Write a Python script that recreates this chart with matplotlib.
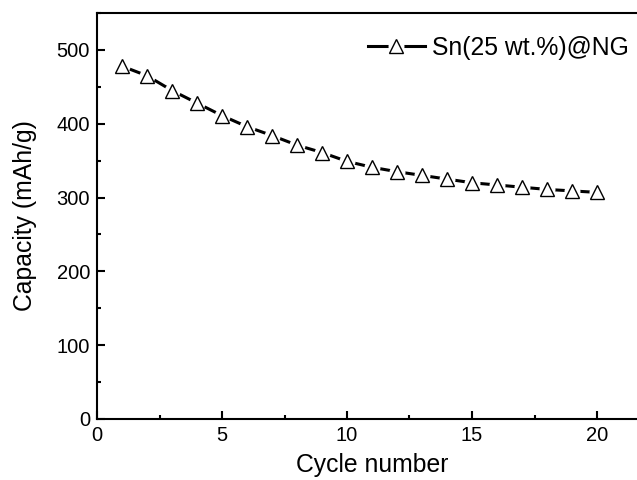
import matplotlib
matplotlib.use("Agg")
import matplotlib.pyplot as plt
from matplotlib.ticker import MultipleLocator
from matplotlib.legend_handler import HandlerTuple

cycles = list(range(1, 21))
capacity = [478, 465, 445, 428, 411, 396, 384, 371, 361, 349,
            341, 335, 330, 325, 320, 317, 314, 311, 309, 307]
series_label = "Sn(25 wt.%)@NG"

plt.rcParams['font.family'] = ['Liberation Sans', 'DejaVu Sans']

fig = plt.figure(figsize=(6.37, 4.8), dpi=100)
ax = fig.add_axes([97/637, 61/480, 550/637, 406/480])
l1, = ax.plot(cycles, capacity, color='black', lw=2.2, zorder=2)
l2, = ax.plot(cycles, capacity, ls='none', marker='o', markersize=11.5,
              markerfacecolor='white', markeredgecolor='white', markeredgewidth=0, zorder=3)
l3, = ax.plot(cycles, capacity, ls='none', marker='^', markersize=10,
              markerfacecolor='white', markeredgecolor='black', markeredgewidth=1.0, zorder=4)
ax.set_xlim(0, 22)
ax.set_ylim(0, 550)
ax.xaxis.set_major_locator(MultipleLocator(5))
ax.xaxis.set_minor_locator(MultipleLocator(2.5))
ax.yaxis.set_major_locator(MultipleLocator(100))
ax.yaxis.set_minor_locator(MultipleLocator(50))
ax.tick_params(which='both', direction='in', top=False, right=False, labelsize=14.5, width=1.5)
ax.tick_params(which='major', length=6, pad=5)
ax.tick_params(which='minor', length=3)
for s in ax.spines.values():
    s.set_linewidth(1.5)
ax.set_xlabel("Cycle number", fontsize=17.8, labelpad=6)
ax.set_ylabel("Capacity (mAh/g)", fontsize=17.8, labelpad=14)
leg = ax.legend(handles=[(l1, l2, l3)], labels=[series_label],
                handler_map={tuple: HandlerTuple(ndivide=1)},
                loc='center left', bbox_to_anchor=(271/550, 0.914), frameon=False,
                fontsize=17.8, handlelength=2.3, handletextpad=0.3, borderpad=0,
                borderaxespad=0)
fig.savefig("out.png", dpi=100)
